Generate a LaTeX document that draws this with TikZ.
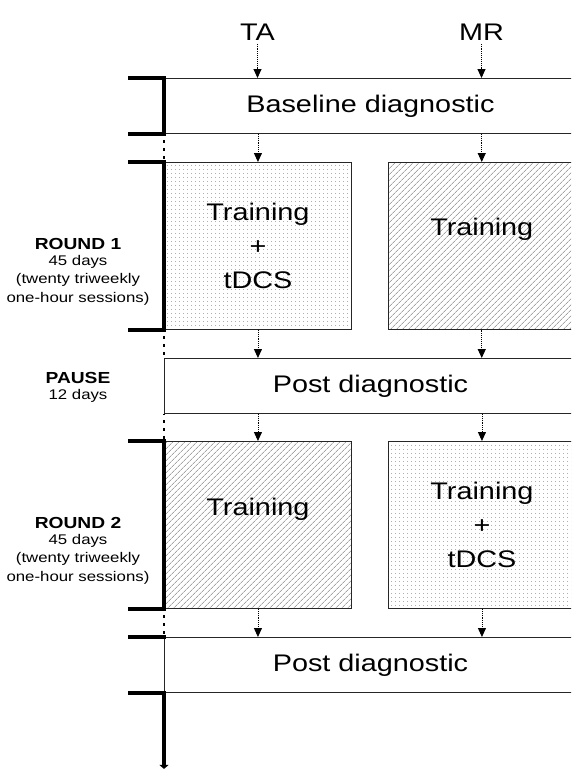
\documentclass[tikz,border=0pt]{standalone}
\usepackage{fontspec}
\setmainfont{Liberation Sans}[FakeStretch=1.2]
\usetikzlibrary{arrows.meta,positioning,patterns.meta}

\begin{document}
\begin{tikzpicture}[
    x=1pt, y=-1pt,
    big/.style={font=\fontsize{24}{34}\selectfont, align=center},
    head/.style={font=\fontsize{16}{18}\selectfont\bfseries, inner sep=0pt},
    note/.style={font=\fontsize{14}{18.5}\selectfont, align=center, inner sep=0pt},
    diag/.style={big, draw=black!85, line width=0.9pt, fill=white, inner sep=0pt,
                 anchor=north west, minimum width=412pt, minimum height=55pt},
    phase/.style={big, draw=black!85, line width=0.9pt, inner sep=0pt,
                  anchor=north west, minimum width=187pt, minimum height=167pt},
    stim/.style={phase, pattern={Dots[distance=4pt,radius=0.45pt]}, pattern color=black!55},
    sham/.style={phase, pattern={Lines[angle=45,distance=4pt,line width=0.5pt]}, pattern color=black!55},
    flow/.style={densely dotted, line width=0.9pt, -{Triangle[length=9pt,width=8pt]}},
    tline/.style={line width=3.5pt},
    gap/.style={line width=2.8pt, dash pattern=on 2.6pt off 5.4pt, dash phase=2pt},
    tick/.style={line width=3.5pt}
  ]
  \path[use as bounding box, clip] (0,0) rectangle (571,769);

  % Group labels
  \node[big] (ta) at (257.5,32) {TA};
  \node[big] (mr) at (481.5,32) {MR};

  % Diagnostic bands and training blocks
  \node[diag] (base) at (164,78) {Baseline diagnostic};
  \node[stim] (r1a) at (164,162) {Training\\+\\tDCS};
  \node[sham] (r1b) at (388,162) {};
  \node[big] (r1bt) at ([yshift=16pt]r1b.center) {Training};
  \node[diag] (post1) at (164,358) {Post diagnostic};
  \node[sham] (r2a) at (164,441) {};
  \node[big] (r2at) at ([yshift=16pt]r2a.center) {Training};
  \node[stim] (r2b) at (388,441) {Training\\+\\tDCS};
  \node[diag] (post2) at (164,637) {Post diagnostic};

  % Phase labels on the left
  \node[head] (r1h) at (78,244) {ROUND 1};
  \node[note, below=5pt of r1h] (r1n) {45 days\\(twenty triweekly\\one-hour sessions)};
  \node[head] (ph) at (78,378) {PAUSE};
  \node[note, below=5pt of ph] (pn) {12 days};
  \node[head] (r2h) at (78,523) {ROUND 2};
  \node[note, below=5pt of r2h] (r2n) {45 days\\(twenty triweekly\\one-hour sessions)};

  % Time axis
  \draw[tick] ([xshift=-36pt]base.north west) -- (base.north west)
    -- (base.south west) -- ([xshift=-36pt]base.south west);
  \draw[tick] ([xshift=-36pt]r1a.north west) -- (r1a.north west)
    -- (r1a.south west) -- ([xshift=-36pt]r1a.south west);
  \draw[tick] ([xshift=-36pt]r2a.north west) -- (r2a.north west)
    -- (r2a.south west) -- ([xshift=-36pt]r2a.south west);
  \draw[tick] ([xshift=-36pt]post2.north west) -- ([xshift=1.75pt]post2.north west);
  \draw[tick] ([xshift=-36pt]post2.south west) -- ([xshift=1.75pt]post2.south west);
  \draw[gap] (base.south west) -- (r1a.north west);
  \draw[gap] (r1a.south west) -- (post1.north west);
  \draw[gap] (post1.south west) -- (r2a.north west);
  \draw[gap] (r2a.south west) -- (post2.north west);
  \draw[tline, -{Triangle[length=4pt,width=9pt]}] (post2.south west) -- ++(0,76);

  % Flow arrows
  \draw[flow] (ta) -- (ta |- base.north);
  \draw[flow] (mr) -- (mr |- base.north);
  \draw[flow] (base.south -| r1a.north) -- (r1a.north);
  \draw[flow] (base.south -| r1b.north) -- (r1b.north);
  \draw[flow] (r1a.south) -- (post1.north -| r1a.south);
  \draw[flow] (r1b.south) -- (post1.north -| r1b.south);
  \draw[flow] (post1.south -| r2a.north) -- (r2a.north);
  \draw[flow] (post1.south -| r2b.north) -- (r2b.north);
  \draw[flow] (r2a.south) -- (post2.north -| r2a.south);
  \draw[flow] (r2b.south) -- (post2.north -| r2b.south);
\end{tikzpicture}
\end{document}
